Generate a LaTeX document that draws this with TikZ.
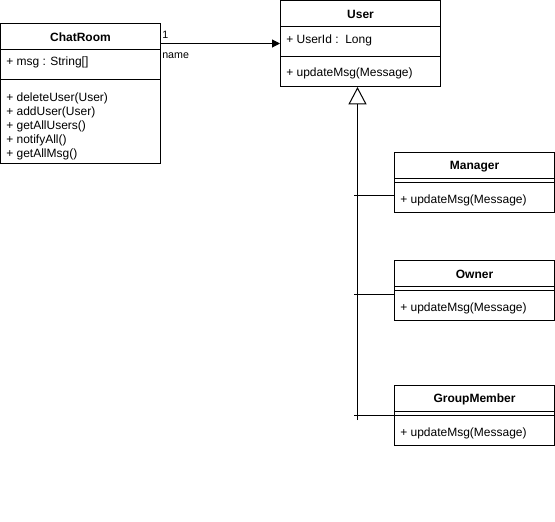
\documentclass[tikz,border=0pt]{standalone}
\usepackage{fontspec}
\setmainfont{Liberation Sans}
\usetikzlibrary{arrows.meta,calc}
\begin{document}
\begin{tikzpicture}[x=0.75pt,y=-0.75pt,
  box/.style={draw,line width=0.75pt,rectangle,inner sep=0pt,fill=white},
  title/.style={font=\fontsize{9}{10.5}\selectfont\bfseries,inner sep=0pt},
  txt/.style={font=\fontsize{9}{10.5}\selectfont,inner sep=0pt,anchor=west,align=left},
  sep/.style={line width=0.75pt},
  conn/.style={line width=0.75pt}]
\useasboundingbox (0,0) rectangle (555,521);
% ChatRoom
\node[box,minimum width=120pt,minimum height=105pt] (chatroom) at (80.5,93.5) {};
\node[title] (chatroomT) at (80.5,37) {ChatRoom};
\draw[sep] (chatroom.west |- 0,49.5) -- (chatroom.east |- 0,49.5);
\draw[sep] (chatroom.west |- 0,79.5) -- (chatroom.east |- 0,79.5);
\node[txt] (chatroomA) at (6,62.5) {+ msg : String[]};
\node[txt] (chatroomM) at (6,126) {+ deleteUser(User)\\+ addUser(User)\\+ getAllUsers()\\+ notifyAll()\\+ getAllMsg()};
% User
\node[box,minimum width=120pt,minimum height=64.5pt] (user) at (360.5,43.5) {};
\node[title] (userT) at (360.5,14) {User};
\draw[sep] (user.west |- 0,26.5) -- (user.east |- 0,26.5);
\draw[sep] (user.west |- 0,56.5) -- (user.east |- 0,56.5);
\node[txt] (userA) at (286,40.5) {+ UserId :\ \ Long};
\node[txt] (userM) at (286,73.5) {+ updateMsg(Message)};
% Manager
\node[box,minimum width=120pt,minimum height=45pt] (manager) at (474.5,182.5) {};
\node[title] (managerT) at (474.5,166.5) {Manager};
\draw[sep] (manager.west |- 0,178.5) -- (manager.east |- 0,178.5);
\draw[sep] (manager.west |- 0,182.5) -- (manager.east |- 0,182.5);
\node[txt] (managerM) at (400,200.5) {+ updateMsg(Message)};
% Owner
\node[box,minimum width=120pt,minimum height=45pt] (owner) at (474.5,290.5) {};
\node[title] (ownerT) at (474.5,274.5) {Owner};
\draw[sep] (owner.west |- 0,286.5) -- (owner.east |- 0,286.5);
\draw[sep] (owner.west |- 0,290.5) -- (owner.east |- 0,290.5);
\node[txt] (ownerM) at (400,308.5) {+ updateMsg(Message)};
% GroupMember
\node[box,minimum width=120pt,minimum height=45pt] (groupmember) at (474.5,415.5) {};
\node[title] (groupmemberT) at (474.5,399.5) {GroupMember};
\draw[sep] (groupmember.west |- 0,411.5) -- (groupmember.east |- 0,411.5);
\draw[sep] (groupmember.west |- 0,415.5) -- (groupmember.east |- 0,415.5);
\node[txt] (groupmemberM) at (400,433.5) {+ updateMsg(Message)};
% association
\draw[conn,-{Triangle[length=6pt,width=6pt]}] (chatroom.east |- 0,43.5) -- (user.west |- 0,43.5);
\node[font=\fontsize{8}{9}\selectfont,inner sep=0pt,anchor=west] (mult) at (162,35) {1};
\node[font=\fontsize{8}{9}\selectfont,inner sep=0pt,anchor=west] (role) at (162,56) {name};
% generalization
\coordinate (trunk) at (357.5,420);
\draw[conn,-{Triangle[open,length=13pt,width=13.5pt]}] (trunk) -- (trunk |- user.south);
\draw[conn] ($(manager.west)+(0,12.5)$) -- ++(-40,0);
\draw[conn] ($(owner.west)+(0,3.5)$) -- ++(-40,0);
\draw[conn] ($(groupmember.west)+(0,0)$) -- ++(-40,0);
\end{tikzpicture}
\end{document}
